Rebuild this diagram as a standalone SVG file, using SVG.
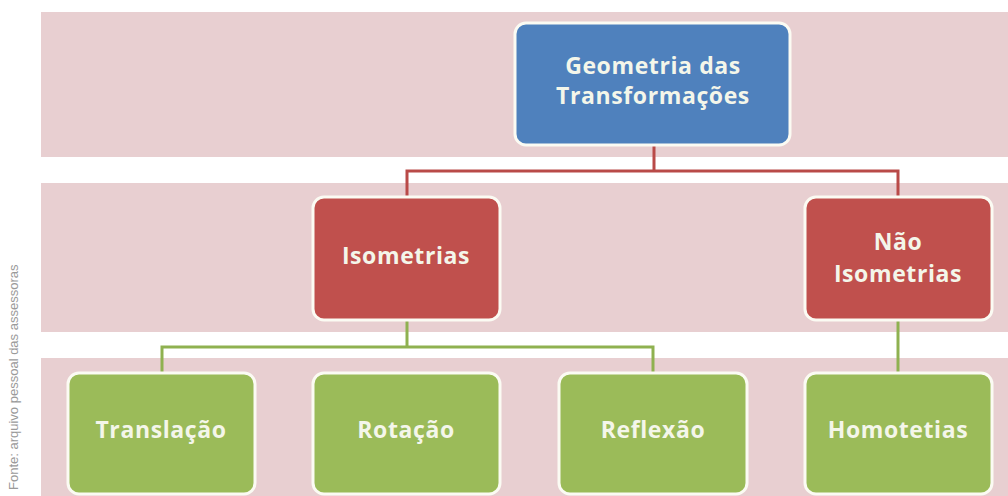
<svg xmlns="http://www.w3.org/2000/svg" width="1008" height="496" viewBox="0 0 1008 496">
<style>
.band{fill:#e8cfd1}
.box{stroke:#fbfbf3;stroke-width:3}
.blue{fill:#4f81bd}
.red{fill:#c0504d}
.green{fill:#9bbb59}
.lbl{font-family:"Open Sans","Liberation Sans",sans-serif;font-weight:bold;font-size:23px;letter-spacing:0.6px;fill:#f4f6ea;text-anchor:middle}
.cr{stroke:#b94a48;stroke-width:3;fill:none}
.cg{stroke:#8fb150;stroke-width:3;fill:none}
</style>
<rect width="1008" height="496" fill="#ffffff"/>
<g id="bands">
<rect class="band" x="41" y="12" width="967" height="145"/>
<rect class="band" x="41" y="183" width="967" height="149"/>
<rect class="band" x="41" y="358" width="967" height="138"/>
</g>
<text x="18" y="490" transform="rotate(-90 18 490)" font-family="Liberation Sans, Arial, sans-serif" font-size="13" fill="#9a9a9a">Fonte: arquivo pessoal das assessoras</text>
<g id="connectors">
<path class="cr" d="M654 145 V171 M407 197 V171 H898 V197"/>
<path class="cg" d="M407 320 V347 M162 373 V347 H653 V373"/>
<path class="cg" d="M898 320 V373"/>
</g>
<g id="geometria">
<rect class="box blue" x="515" y="23" width="275" height="122" rx="11"/>
<text class="lbl" x="653" y="74">Geometria das</text>
<text class="lbl" x="653" y="104">Transformações</text>
</g>
<g id="isometrias">
<rect class="box red" x="313" y="197" width="187" height="123" rx="11"/>
<text class="lbl" x="406" y="264">Isometrias</text>
</g>
<g id="nao-isometrias">
<rect class="box red" x="805" y="197" width="187" height="123" rx="11"/>
<text class="lbl" x="898" y="250">Não</text>
<text class="lbl" x="898" y="282">Isometrias</text>
</g>
<g id="translacao">
<rect class="box green" x="68" y="373" width="187" height="121" rx="11"/>
<text class="lbl" x="161" y="438">Translação</text>
</g>
<g id="rotacao">
<rect class="box green" x="313" y="373" width="187" height="121" rx="11"/>
<text class="lbl" x="406" y="438">Rotação</text>
</g>
<g id="reflexao">
<rect class="box green" x="559" y="373" width="188" height="121" rx="11"/>
<text class="lbl" x="653" y="438">Reflexão</text>
</g>
<g id="homotetias">
<rect class="box green" x="805" y="373" width="187" height="121" rx="11"/>
<text class="lbl" x="898" y="438">Homotetias</text>
</g>
</svg>
